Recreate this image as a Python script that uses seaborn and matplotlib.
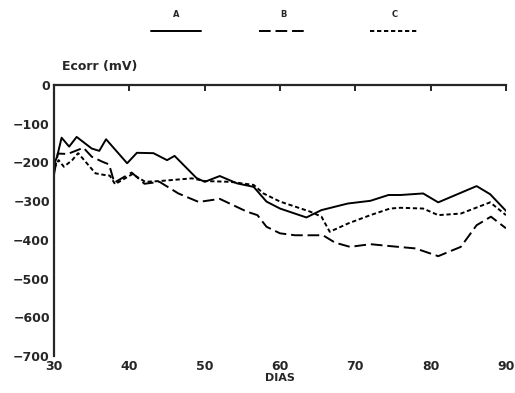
import numpy as np
import pandas as pd
import matplotlib
matplotlib.use("Agg")
import matplotlib.pyplot as plt
from matplotlib.lines import Line2D
import seaborn as sns

# ── Data ───────────────────────────────────────────────────────────────────
dias_a = [30.0, 30.4, 31.0, 32.0, 33.0, 35.0, 36.0, 36.9, 39.7, 41.0, 43.2, 45.0,
          46.0, 48.9, 50.0, 52.0, 54.3, 56.5, 58.2, 60.0, 63.5, 65.5, 69.0, 72.0,
          74.4, 76.0, 79.0, 81.0, 86.1, 87.9, 90.0]
ecorr_a = [-205, -185, -136, -159, -134, -164, -170, -140, -202, -175, -176, -194,
           -183, -240, -250, -235, -254, -263, -301, -319, -342, -323, -306, -299,
           -284, -284, -280, -303, -261, -282, -325]

dias_b = [30.0, 30.5, 31.8, 33.9, 35.0, 36.4, 37.3, 38.0, 40.3, 42.0, 44.0, 46.5,
          49.2, 52.0, 55.6, 57.0, 58.2, 60.0, 62.0, 65.7, 67.3, 69.3, 72.0, 74.6,
          78.0, 81.0, 84.0, 86.1, 88.0, 90.0]
ecorr_b = [-230, -177, -178, -162, -185, -198, -205, -252, -226, -255, -250, -280,
           -302, -294, -327, -336, -366, -383, -388, -388, -407, -418, -411, -416,
           -422, -442, -418, -362, -340, -370]

dias_c = [30.0, 30.6, 31.3, 32.4, 33.2, 35.5, 36.6, 37.4, 38.1, 40.4, 42.1, 44.0,
          48.3, 50.0, 53.4, 56.5, 57.8, 60.0, 64.0, 65.5, 66.6, 69.1, 72.0, 74.6,
          76.0, 79.0, 81.0, 84.0, 87.9, 90.0]
ecorr_c = [-215, -194, -211, -194, -176, -228, -232, -234, -256, -230, -250, -248,
           -241, -248, -250, -258, -280, -301, -327, -340, -379, -357, -336, -319,
           -317, -319, -336, -332, -303, -336]

series_names = ["A", "B", "C"]
y_ticks = [0, -100, -200, -300, -400, -500, -600, -700]
x_ticks = [30, 40, 50, 60, 70, 80, 90]

df = pd.concat([
    pd.DataFrame({"dia": dias_a, "ecorr": ecorr_a, "serie": "A"}),
    pd.DataFrame({"dia": dias_b, "ecorr": ecorr_b, "serie": "B"}),
    pd.DataFrame({"dia": dias_c, "ecorr": ecorr_c, "serie": "C"}),
], ignore_index=True)

# ── Style ──────────────────────────────────────────────────────────────────
sns.set_style("white")
plt.rcParams["font.family"] = ["DejaVu Sans"]
plt.rcParams["font.weight"] = "bold"

DASHES = {"A": "", "B": (6, 2.5), "C": (2.2, 1.4)}
LW = 1.4

fig = plt.figure(figsize=(5.15, 3.93), dpi=100)
ax = fig.add_axes([0.105, 0.094, 0.8775, 0.6896])

sns.lineplot(data=df, x="dia", y="ecorr", style="serie", dashes=DASHES,
             color="black", linewidth=LW, legend=False, ax=ax)

ax.set_xlim(30, 90)
ax.set_ylim(-700, 0)
ax.set_xticks(x_ticks)
ax.set_yticks(y_ticks)
ax.set_yticklabels([str(v) if v == 0 else f"\u2212{abs(v)}" for v in y_ticks])

for side in ["right", "bottom"]:
    ax.spines[side].set_visible(False)
for side in ["left", "top"]:
    ax.spines[side].set_linewidth(1.6)

ax.tick_params(axis="y", direction="in", length=4, width=1.4, labelsize=9, pad=3)
ax.tick_params(axis="x", direction="in", length=4, width=1.4, labelsize=9,
               bottom=False, top=True, labelbottom=True, labeltop=False, pad=3)
for lab in ax.get_xticklabels() + ax.get_yticklabels():
    lab.set_fontweight("bold")

ax.set_xlabel("DIAS", fontsize=8, fontweight="bold", labelpad=0)
ax.set_ylabel("")
fig.text(0.12, 0.83, "Ecorr (mV)", fontsize=9, fontweight="bold",
         ha="left", va="center")

# Legend across the top: label above a line sample
legend_x = [0.342, 0.551, 0.766]
for name, cx in zip(series_names, legend_x):
    fig.text(cx, 0.962, name, fontsize=6, fontweight="bold", ha="center", va="center")
    fig.add_artist(Line2D([cx - 0.048, cx + 0.048], [0.921, 0.921],
                          color="black", linewidth=LW,
                          dashes=DASHES[name] if DASHES[name] else (None, None),
                          linestyle="-" if not DASHES[name] else "--"))

fig.savefig("out.png", dpi=100, facecolor="white")
